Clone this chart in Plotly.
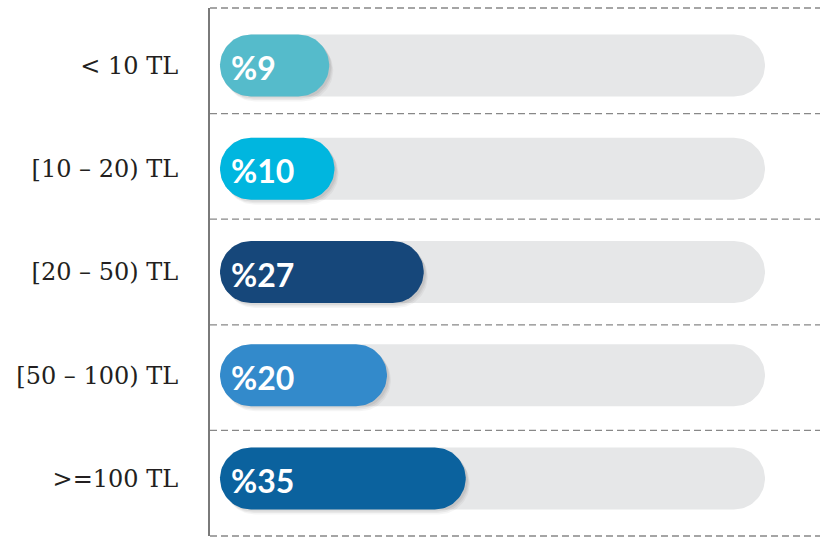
import numpy as np
import plotly.graph_objects as go

categories = ["< 10 TL", "[10 – 20) TL", "[20 – 50) TL", "[50 – 100) TL", ">=100 TL"]
values = [9, 10, 27, 20, 35]
value_labels = ["%9", "%10", "%27", "%20", "%35"]
bar_colors = ["#55BBCB", "#00B6DF", "#16477A", "#338ACB", "#0B629E"]
track_max = 92

W, H = 820, 541
ML, MR, MT, MB = 210, 0, 8, 5
PX_PER_UNIT = 5.25         # horizontal scale
CAP = 62                   # pill thickness in px
BAND = 103.25              # px between pill centres

plot_w = W - ML - MR
plot_h = H - MT - MB
x0 = -41 / PX_PER_UNIT
x1 = x0 + plot_w / PX_PER_UNIT
n = len(categories)
span = plot_h / BAND
pad = (span - n) / 2
yr = [n - 0.5 + pad, -0.5 - pad]
ypos = list(range(n))

rx = (CAP / 2) / PX_PER_UNIT
ry = (CAP / 2) / BAND


def pill_xy(xa, xb, yc):
    t1 = np.linspace(np.pi / 2, 3 * np.pi / 2, 40)   # left cap
    t2 = np.linspace(-np.pi / 2, np.pi / 2, 40)      # right cap
    xs = list(xa + rx * np.cos(t1)) + list(xb + rx * np.cos(t2))
    ys = list(yc - ry * np.sin(t1)) + list(yc - ry * np.sin(t2))
    xs.append(xs[0]); ys.append(ys[0])
    return xs, ys


fig = go.Figure()


def add_pill(xa, xb, yc, color):
    xs, ys = pill_xy(xa, xb, yc)
    fig.add_trace(go.Scatter(x=xs, y=ys, mode="lines", fill="toself",
                             fillcolor=color, line=dict(width=0),
                             hoverinfo="skip", showlegend=False))


# background tracks
for y in ypos:
    add_pill(0, track_max, y, "#E6E7E8")

# soft shadow + value pills
for y, v, c in zip(ypos, values, bar_colors):
    for sx, sy, a in [(4, 5, 0.04), (3, 3.5, 0.05), (2, 2, 0.06)]:
        add_pill(sx / PX_PER_UNIT, v + sx / PX_PER_UNIT, y + sy / BAND, f"rgba(0,0,0,{a})")
    add_pill(0, v, y, c)

for y, lab in zip(ypos, value_labels):
    fig.add_annotation(x=0, y=y, text=lab, showarrow=False, xanchor="left",
                       xshift=-22, yshift=-2,
                       font=dict(family="Lato", size=32, color="white", weight="bold"))

# dashed separators
for i in range(n + 1):
    fig.add_shape(type="line", xref="paper", yref="paper", x0=0, x1=1,
                  y0=i / n, y1=i / n, line=dict(color="#888888", width=1.3, dash="7px,4px"),
                  layer="below")

fig.update_layout(
    width=W, height=H, margin=dict(l=ML, r=MR, t=MT, b=MB),
    paper_bgcolor="white", plot_bgcolor="white",
    xaxis=dict(range=[x0, x1], visible=False, fixedrange=True),
    yaxis=dict(range=yr, tickvals=ypos, ticktext=categories, showgrid=False,
               zeroline=False, showline=True, linecolor="#7A7A7A", linewidth=2,
               ticks="", ticklabelstandoff=25, automargin=False, fixedrange=True,
               tickfont=dict(family="DejaVu Serif", size=24, color="#231F20")),
)

fig.write_html("out.html", config={"displayModeBar": False},
               post_script="document.body.style.margin='0';document.body.style.padding='0';")
